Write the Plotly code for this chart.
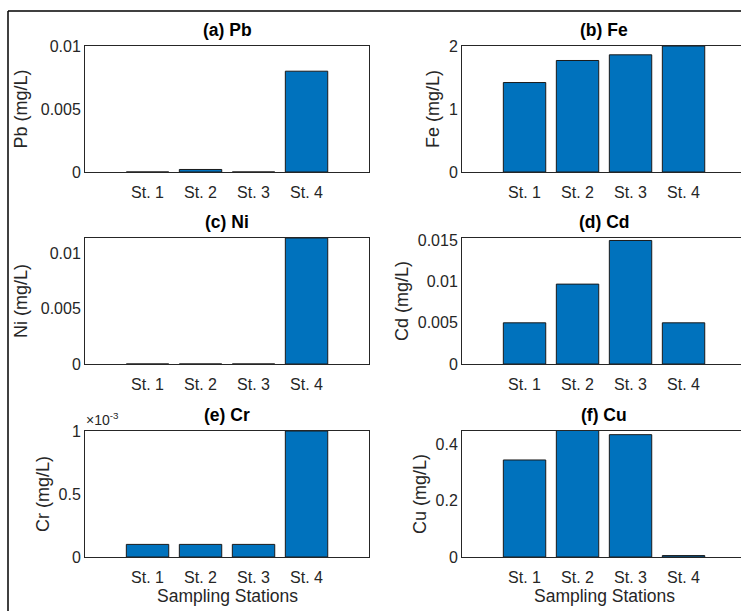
import plotly.graph_objects as go

stations = ["St. 1", "St. 2", "St. 3", "St. 4"]
pb = [0, 0.0002, 0, 0.008]
fe = [1.42, 1.77, 1.86, 2.0]
ni = [0, 0, 0, 0.0114]
cd = [0.005, 0.0097, 0.015, 0.005]
cr = [0.0001, 0.0001, 0.0001, 0.001]
cu = [0.345, 0.45, 0.435, 0.005]

titles = ["(a) Pb", "(b) Fe", "(c) Ni", "(d) Cd", "(e) Cr", "(f) Cu"]
ylabels = ["Pb (mg/L)", "Fe (mg/L)", "Ni (mg/L)", "Cd (mg/L)", "Cr (mg/L)", "Cu (mg/L)"]
series = [pb, fe, ni, cd, cr, cu]
yranges = [[0, 0.01], [0, 2], [0, 0.0114], [0, 0.0153], [0, 0.001], [0, 0.448]]
ytickvals = [[0, 0.005, 0.01], [0, 1, 2], [0, 0.005, 0.01], [0, 0.005, 0.01, 0.015],
             [0, 0.0005, 0.001], [0, 0.2, 0.4]]
yticktext = [["0", "0.005", "0.01"], ["0", "1", "2"], ["0", "0.005", "0.01"],
             ["0", "0.005", "0.01", "0.015"], ["0", "0.5", "1"], ["0", "0.2", "0.4"]]
xlabel = "Sampling Stations"
exponent_label = "\u00d710<sup>-3</sup>"

W, H = 741, 611
FONT = "Liberation Sans, Arial, Helvetica, sans-serif"
AX = "#262626"
BAR = "#0072BD"

# pixel boxes of the axes: (left, right) per column, (top, bottom) per row
cols = [(85, 369), (462, 741)]
rows = [(46, 172), (238, 364), (431, 557)]
spacing = 53.0
ystandoff = [8, 4, 8, 4, 4, 4]

fig = go.Figure()
annotations = []
for i in range(6):
    r, c = divmod(i, 2)
    xl, xr = cols[c]
    yt, yb = rows[r]
    n = i + 1
    xa = "x" if n == 1 else f"x{n}"
    ya = "y" if n == 1 else f"y{n}"
    fig.add_trace(go.Bar(
        x=stations, y=series[i], xaxis=xa, yaxis=ya,
        marker=dict(color=BAR, line=dict(color="#1a1a1a", width=1)),
        showlegend=False, hoverinfo="x+y",
    ))
    x0 = -1.18
    x1 = x0 + (xr - xl) / spacing
    fig.update_layout(**{
        ("xaxis" if n == 1 else f"xaxis{n}"): dict(
            domain=[xl / W, xr / W], anchor=ya, range=[x0, x1],
            showline=True, mirror=True, linecolor=AX, linewidth=1,
            showgrid=False, zeroline=False, ticks="", automargin=False,
            ticklabelstandoff=6,
            tickfont=dict(family=FONT, size=16, color=AX),
            fixedrange=True,
        ),
        ("yaxis" if n == 1 else f"yaxis{n}"): dict(
            domain=[1 - yb / H, 1 - yt / H], anchor=xa, range=yranges[i],
            showline=True, mirror=(c == 0), linecolor=AX, linewidth=1,
            showgrid=False, zeroline=False, ticks="", automargin=False,
            tickvals=ytickvals[i], ticktext=yticktext[i],
            tickfont=dict(family=FONT, size=16, color=AX),
            title=dict(text=ylabels[i], font=dict(family=FONT, size=18, color=AX), standoff=ystandoff[i]),
            fixedrange=True,
        ),
    })
    cx = (85 + 369) / 2 if c == 0 else (462 + 746) / 2
    annotations.append(dict(
        text=f"<b>{titles[i]}</b>", xref="paper", yref="paper",
        x=cx / W, y=1 - (yt - 4) / H, xanchor="center", yanchor="bottom", showarrow=False,
        font=dict(family=FONT, size=17.5, color="black"),
    ))
    if r == 2:
        annotations.append(dict(
            text=xlabel, xref="paper", yref="paper",
            x=cx / W, y=1 - 608 / H, xanchor="center", yanchor="bottom", showarrow=False,
            font=dict(family=FONT, size=17.5, color=AX),
        ))

annotations.append(dict(
    text=exponent_label, xref="paper", yref="paper",
    x=84 / W, y=1 - 430 / H, xanchor="left", yanchor="bottom", showarrow=False,
    font=dict(family=FONT, size=14, color=AX),
))

fig.update_layout(
    width=W, height=H,
    margin=dict(l=0, r=0, t=0, b=0, autoexpand=False),
    paper_bgcolor="white", plot_bgcolor="white",
    bargap=0.2,
    annotations=annotations,
    shapes=[
        dict(type="line", xref="paper", yref="paper", x0=8 / W, x1=1, y0=1 - 11 / H, y1=1 - 11 / H,
             line=dict(color="black", width=1.5)),
        dict(type="line", xref="paper", yref="paper", x0=8 / W, x1=8 / W, y0=0, y1=1 - 11 / H,
             line=dict(color="black", width=1.5)),
    ],
)

fig.write_html(
    "out.html",
    config={"displayModeBar": False},
    post_script="document.body.style.margin='0';document.body.style.overflow='hidden';",
)
